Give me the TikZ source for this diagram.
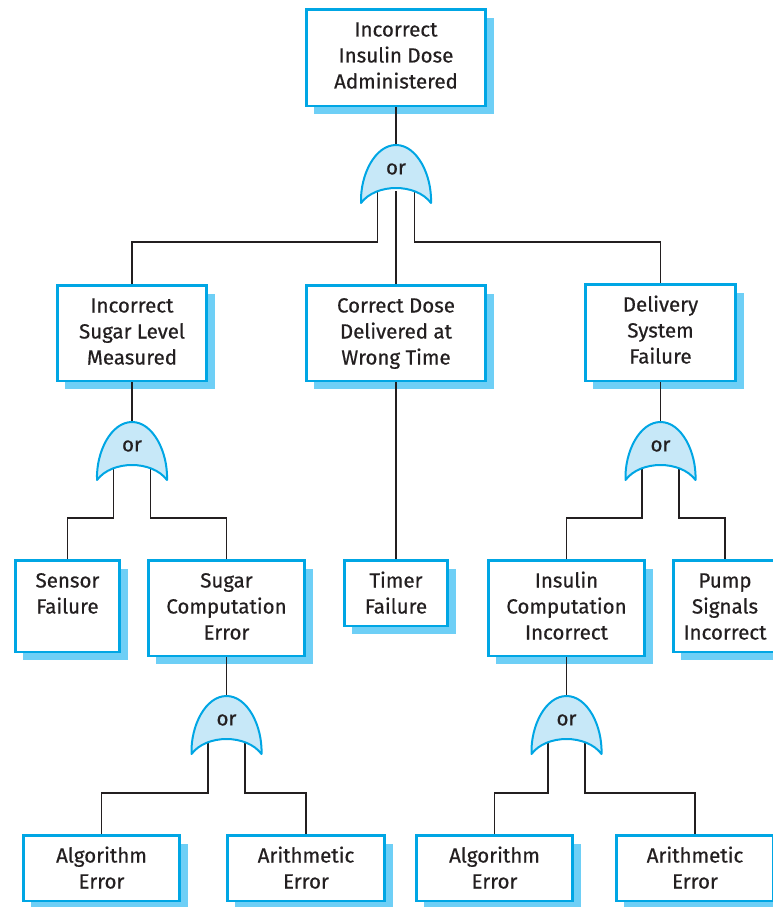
\documentclass[tikz,border=0pt]{standalone}
\usepackage{fontspec}
\setmainfont{Fira Sans}[FakeBold=0.5]
\usetikzlibrary{shadows}
\definecolor{bblue}{RGB}{0,166,228}
\definecolor{sblue}{RGB}{110,207,246}
\definecolor{gfill}{RGB}{199,232,248}
\definecolor{ink}{RGB}{35,31,32}
\tikzset{
 fbox/.style={draw=bblue, line width=2.6pt, fill=white, rectangle, inner sep=0pt,
   drop shadow={shadow xshift=8pt, shadow yshift=-8pt, fill=sblue, opacity=1}},
 lbl/.style={align=center, inner sep=0pt, text=ink, font=\fontsize{20.5}{26}\selectfont},
 conn/.style={draw=ink, line width=1.1pt},
 gatest/.style={draw=bblue, fill=gfill, line width=2pt, line join=round},
 ortxt/.style={text=ink, font=\fontsize{20.5}{26}\selectfont, inner sep=0pt}
}
\newcommand\fbx[6]{%
 \node[fbox, anchor=north, minimum width=#4pt, minimum height=#5pt] (#1) at (#2,#3) {};
 \node[lbl, anchor=north] (#1t) at ([yshift=-9.8pt]#1.north) {\strut #6};
}
\newcommand\gatecoords[3]{%
 \coordinate (#1top) at (#2,{#3-58});
 \coordinate (#1l) at ({#2-18.5},{#3-12});
 \coordinate (#1m) at (#2,{#3-12});
 \coordinate (#1r) at ({#2+18.5},{#3-12});
}
\newcommand\gatedraw[3]{%
 \draw[gatest] ({#2-35},#3) .. controls ({#2-36},{#3-28}) and ({#2-21},{#3-58}) .. (#2,{#3-58})
   .. controls ({#2+21},{#3-58}) and ({#2+36},{#3-28}) .. ({#2+35},#3)
   .. controls ({#2+20},{#3-20}) and ({#2-20},{#3-20}) .. cycle;
 \node[ortxt] (#1) at (#2,{#3-34}) {or};
}
\begin{document}
\begin{tikzpicture}[x=1pt,y=-1pt]
\useasboundingbox (0,0) rectangle (773,907);
\clip (0,0) rectangle (773,907);
% boxes
\fbx{top}{396}{8.3}{179.4}{96.4}{Incorrect\\Insulin Dose\\Administered}
\fbx{sugar}{132}{284.3}{149.4}{95.4}{Incorrect\\Sugar Level\\Measured}
\fbx{dose}{396}{284.3}{179.4}{95.4}{Correct Dose\\Delivered at\\Wrong Time}
\fbx{deliv}{660.5}{283.3}{150.4}{96.4}{Delivery\\System\\Failure}
\fbx{sensor}{67.5}{559.3}{104.4}{91.4}{Sensor\\Failure}
\fbx{scomp}{226.5}{559.3}{156.4}{95.4}{Sugar\\Computation\\Error}
\fbx{timer}{396}{559.3}{103.4}{65.4}{Timer\\Failure}
\fbx{icomp}{566.5}{559.3}{156.4}{95.4}{Insulin\\Computation\\Incorrect}
\fbx{pump}{725}{559.3}{103.4}{91.4}{Pump\\Signals\\Incorrect}
\fbx{algl}{101.5}{834.3}{156.4}{65.4}{Algorithm\\Error}
\fbx{aril}{306}{834.3}{157.4}{65.4}{Arithmetic\\Error}
\fbx{algr}{494.5}{834.3}{156.4}{65.4}{Algorithm\\Error}
\fbx{arir}{695}{834.3}{157.4}{65.4}{Arithmetic\\Error}
% gate coordinates
\gatecoords{ga}{396}{203}
\gatecoords{gb}{132}{480}
\gatecoords{gc}{660.5}{480}
\gatecoords{gd}{226.5}{754}
\gatecoords{ge}{566.5}{754}
\coordinate (h1) at (0,242);
\coordinate (h2) at (0,518);
\coordinate (h3) at (0,793);
% connectors
\draw[conn] (top.south) -- (gatop);
\draw[conn] (gal) -- (gal |- h1) -| (sugar.north);
\draw[conn] (gam) -- (dose.north);
\draw[conn] (gar) -- (gar |- h1) -| (deliv.north);
\draw[conn] (sugar.south) -- (gbtop);
\draw[conn] (gbl) -- (gbl |- h2) -| (sensor.north);
\draw[conn] (gbr) -- (gbr |- h2) -| (scomp.north);
\draw[conn] (dose.south) -- (timer.north);
\draw[conn] (deliv.south) -- (gctop);
\draw[conn] (gcl) -- (gcl |- h2) -| (icomp.north);
\draw[conn] (gcr) -- (gcr |- h2) -| (pump.north);
\draw[conn] (scomp.south) -- (gdtop);
\draw[conn] (gdl) -- (gdl |- h3) -| (algl.north);
\draw[conn] (gdr) -- (gdr |- h3) -| (aril.north);
\draw[conn] (icomp.south) -- (getop);
\draw[conn] (gel) -- (gel |- h3) -| (algr.north);
\draw[conn] (ger) -- (ger |- h3) -| (arir.north);
% gates
\gatedraw{ga}{396}{203}
\gatedraw{gb}{132}{480}
\gatedraw{gc}{660.5}{480}
\gatedraw{gd}{226.5}{754}
\gatedraw{ge}{566.5}{754}
\end{tikzpicture}
\end{document}
